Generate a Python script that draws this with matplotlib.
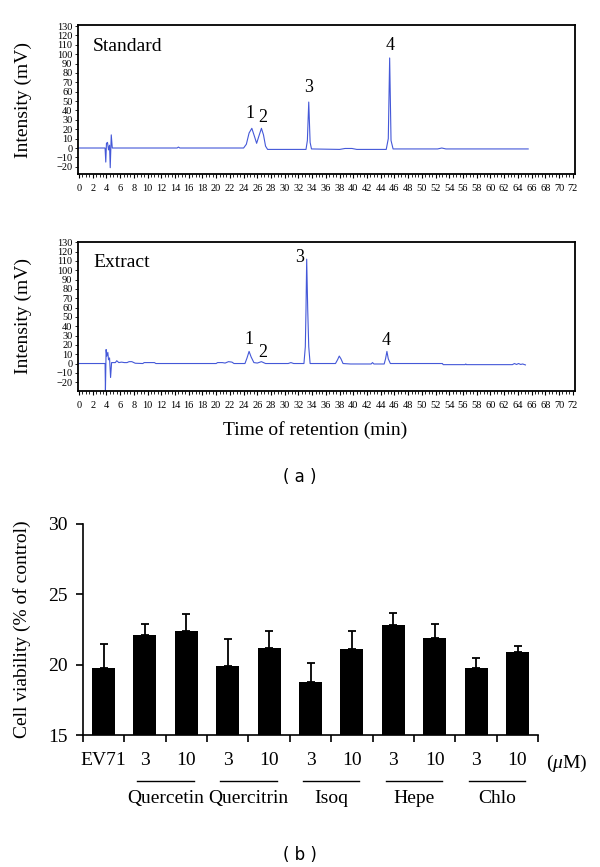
import numpy as np
import matplotlib
matplotlib.use("Agg")
import matplotlib.pyplot as plt
import matplotlib.transforms as mtransforms
from matplotlib.ticker import MultipleLocator

plt.rcParams['font.family'] = ['Liberation Serif', 'DejaVu Serif']
plt.rcParams['mathtext.fontset'] = 'custom'
plt.rcParams['mathtext.rm'] = 'Liberation Serif'
plt.rcParams['mathtext.it'] = 'Liberation Serif:italic'

# chromatogram, standard mix (min, mV)
std_time = [0, 3.8, 3.9, 4.0, 4.15, 4.3, 4.45, 4.55, 4.7, 4.85,
            5.0, 14.3, 14.5, 14.7, 24.0, 24.4, 24.8, 25.2, 25.6, 25.9,
            26.2, 26.6, 26.9, 27.2, 27.5, 33.1, 33.3, 33.5, 33.7, 33.9,
            38.0, 38.8, 39.8, 40.5, 44.8, 45.1, 45.3, 45.5, 45.8, 52.3,
            52.9, 53.5, 65.5]
std_mv = [0, 0, -15, 5, 6, -2, 3, -21, 14, 0,
          0, 0, 1, 0, 0, 4, 16, 21, 12, 5,
          12, 21, 14, 2, -1.5, -1.5, 8, 49, 6, -1,
          -1.5, -0.5, -0.5, -1.5, -1.5, 10, 96, 8, -1, -1,
          0, -1, -1]

# chromatogram, extract
ext_time = [0, 3.8, 3.85, 3.95, 4.05, 4.2, 4.3, 4.45, 4.6, 4.75,
            5.0, 5.3, 5.5, 5.8, 6.2, 6.6, 7.0, 7.3, 7.7, 8.2,
            9.3, 9.5, 11.0, 11.2, 20.0, 20.2, 20.9, 21.3, 21.8, 22.3,
            22.6, 24.2, 24.5, 24.8, 25.1, 25.5, 26.0, 26.6, 27.2, 30.5,
            30.9, 31.3, 32.8, 33.0, 33.1, 33.2, 33.35, 33.5, 33.7, 37.4,
            37.7, 37.95, 38.2, 38.5, 39.6, 42.6, 42.8, 43.0, 44.5, 44.7,
            44.9, 45.1, 45.4, 53.0, 53.1, 56.3, 56.4, 56.5, 63.2, 63.5,
            63.8, 64.1, 64.4, 64.7, 65.1]
ext_mv = [0, 0, -29, 15, 8, 12, 4, 6, -15, 1,
          1, 1, 3, 1, 1.5, 1, 1, 2, 2, 0.3,
          0, 1, 1, 0, 0, 1, 1, 0.5, 2, 1.5,
          0, 0, 6, 13, 7, 1, 0.5, 2, 0, 0,
          1, 0, 0, 18, 58, 112, 58, 18, 0, 0,
          4, 8, 5, 0, -0.5, -0.5, 1, -0.5, -0.5, 5,
          13, 5, 0, 0, -1.2, -1.2, -0.5, -1.2, -1.2, 0,
          -1, 0, -1, -0.5, -1.5]

# peak labels: (number, time, mV)
std_peaks = [('1', 25.0, 37), ('2', 26.8, 33), ('3', 33.5, 64), ('4', 45.3, 109)]
ext_peaks = [('1', 24.8, 26), ('2', 26.8, 12), ('3', 32.2, 114), ('4', 44.8, 25)]

# cell viability
bar_labels = ['EV71', '3', '10', '3', '10', '3', '10', '3', '10', '3', '10']
viability = [19.8, 22.1, 22.4, 19.9, 21.2, 18.8, 21.1, 22.8, 21.9, 19.8, 20.9]
errors = [1.7, 0.8, 1.2, 1.9, 1.2, 1.3, 1.3, 0.9, 1.0, 0.7, 0.4]
groups = ['Quercetin', 'Quercitrin', 'Isoq', 'Hepe', 'Chlo']

line_col = '#4458d8'

fig = plt.figure(figsize=(6, 8.67), dpi=100)
ax1 = fig.add_axes([0.130, 0.799, 0.828, 0.172])
ax2 = fig.add_axes([0.130, 0.549, 0.828, 0.172])


def chrom(ax, t, v, title, peaks, ylim):
    ax.plot(t, v, color=line_col, lw=0.8)
    ax.set_xlim(-0.15, 72.3)
    ax.set_ylim(*ylim)
    ax.xaxis.set_major_locator(MultipleLocator(2))
    ax.xaxis.set_minor_locator(MultipleLocator(0.5))
    ax.yaxis.set_major_locator(MultipleLocator(10))
    ax.xaxis.set_major_formatter(plt.FuncFormatter(lambda x, p: '%d' % x))
    ax.tick_params(axis='x', which='major', length=3, width=0.8, labelsize=7.5, pad=4)
    ax.tick_params(axis='x', which='minor', length=2, width=0.6)
    ax.tick_params(axis='y', length=2, width=0.6, labelsize=7.5, pad=2)
    for s in ax.spines.values():
        s.set_linewidth(1.3)
    ax.set_ylabel('Intensity (mV)', fontsize=14)
    ax.yaxis.set_label_coords(-0.093, 0.5)
    ax.text(0.03, 0.86, title, transform=ax.transAxes, fontsize=14, va='center')
    for lab, px, py in peaks:
        ax.text(px, py, lab, fontsize=13, ha='center', va='center')


chrom(ax1, std_time, std_mv, 'Standard', std_peaks, (-28, 131))
chrom(ax2, ext_time, ext_mv, 'Extract', ext_peaks, (-29.5, 130.5))
ax2.set_xlabel('Time of retention (min)', fontsize=14)
ax2.xaxis.set_label_coords(0.477, -0.2)
ax2.xaxis.label.set_va('top')

fig.text(0.5, 0.450, '( a )', family='DejaVu Sans', fontsize=12, ha='center', va='center')

# bar chart
ax3 = fig.add_axes([0.138, 0.152, 0.759, 0.244])
x = np.arange(len(viability))
ax3.bar(x, viability, width=0.56, color='black',
        yerr=[np.zeros(len(errors)), errors],
        error_kw=dict(ecolor='black', elinewidth=1.3, capsize=3, capthick=1.3))
ax3.set_ylim(15, 30)
ax3.set_xlim(-0.5, 10.5)
ax3.set_yticks([15, 20, 25, 30])
ax3.set_xticks(np.arange(-0.5, 11, 1))
ax3.set_xticklabels([])
ax3.set_xticks(x, bar_labels, minor=True)
ax3.tick_params(axis='x', which='minor', length=0, labelsize=14, pad=12)
ax3.tick_params(axis='x', which='major', length=5, width=1.2)
ax3.tick_params(axis='y', length=5, width=1.2, labelsize=14, pad=6)
ax3.spines['top'].set_visible(False)
ax3.spines['right'].set_visible(False)
ax3.spines['left'].set_linewidth(1.2)
ax3.spines['bottom'].set_linewidth(1.2)
ax3.set_ylabel('Cell viability (% of control)', fontsize=14)
ax3.yaxis.set_label_coords(-0.114, 0.5)

trans = mtransforms.blended_transform_factory(ax3.transData, ax3.transAxes)
for i, g in enumerate(groups):
    a = 1 + 2 * i
    ax3.plot([a - 0.18, a + 1.18], [-0.215, -0.215], color='black', lw=1.0,
             transform=trans, clip_on=False)
    ax3.text(a + 0.5, -0.30, g, transform=trans, fontsize=14, ha='center', va='center')
ax3.text(11.2, -0.135, r'($\mu$M)', transform=trans, fontsize=14, ha='center', va='center')

fig.text(0.5, 0.014, '( b )', family='DejaVu Sans', fontsize=12, ha='center', va='center')

fig.savefig('out.png', dpi=100)
